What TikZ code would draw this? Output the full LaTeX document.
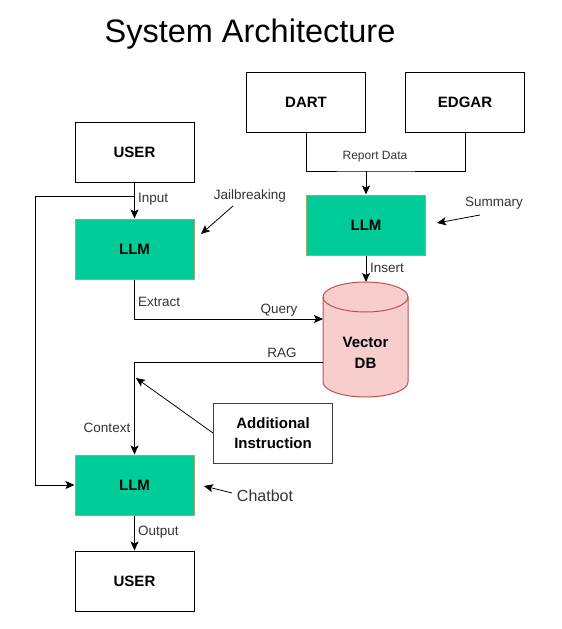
\documentclass[tikz,border=0pt]{standalone}
\usepackage{fontspec}
\setmainfont{Liberation Sans}
\usetikzlibrary{arrows.meta}
\definecolor{llmgreen}{HTML}{00CC99}
\definecolor{llmborder}{HTML}{9AAB6A}
\definecolor{dbfill}{HTML}{F8CECC}
\definecolor{dbborder}{HTML}{B85450}
\begin{document}
\begin{tikzpicture}[x=1pt,y=-1pt,
  box/.style={draw=black, fill=white, line width=1pt, minimum width=119pt, minimum height=60pt, inner sep=0pt,
    font=\fontsize{15}{18}\selectfont\bfseries},
  llm/.style={box, fill=llmgreen, draw=llmborder},
  lbl/.style={font=\fontsize{13.5}{15}\selectfont, text=black!80, inner sep=1pt},
  conn/.style={draw=black, line width=1pt, -{Stealth[length=9pt,width=8pt,inset=2pt]}},
  pointer/.style={draw=black, line width=0.8pt, -{Stealth[length=9pt,width=8pt,inset=2pt]}},
  plain/.style={draw=black, line width=1pt}]
\useasboundingbox (0,0) rectangle (562,629);

% title
\node[font=\fontsize{32.5}{38}\selectfont] (title) at (250,34) {System Architecture};

% boxes
\node[box] (user1) at (134.5,152) {USER};
\node[llm] (llm1) at (134.5,249) {LLM};
\node[box] (dart) at (306,102) {DART};
\node[box] (edgar) at (465,102) {EDGAR};
\node[llm] (llm2) at (366,225) {LLM};
\node[box, draw=black!75, align=center, font=\fontsize{15}{20}\selectfont\bfseries] (addi) at (273,433) {Additional\\Instruction};
\node[llm] (llm3) at (134.5,485) {LLM};
\node[box] (user2) at (134.5,581) {USER};

% cylinder
\node[minimum width=85pt, minimum height=115pt, inner sep=0pt] (db) at (365.5,339.5) {};
\draw[fill=dbfill, draw=dbborder, line width=1pt]
  (323,297) -- (323,382) arc[start angle=180, end angle=0, x radius=42.5, y radius=15]
  -- (408,297) arc[start angle=0, end angle=-180, x radius=42.5, y radius=15] -- cycle;
\draw[draw=dbborder, line width=1pt] (323,297) arc[start angle=180, end angle=0, x radius=42.5, y radius=15];
\node[align=center, font=\fontsize{15}{21}\selectfont\bfseries] (dbtext) at (365.5,353) {Vector\\DB};

% coordinates
\coordinate (j1) at (134.5,196);
\coordinate (j2) at (35,196);
\coordinate (j3) at (35,485);
\coordinate (qend) at (323,319);
\coordinate (rd) at (366,171);
\coordinate (dbtop) at (366,282);
\coordinate (ragstart) at (323,362);
\coordinate (addtip) at (136,378);

% connectors
\draw[conn] (user1) -- (llm1);
\draw[conn] (j1) -- (j2) -- (j3) -- (llm3.west);
\draw[conn] (llm1.south) |- (qend);
\draw[plain] (dart.south) |- (rd) -| (edgar.south);
\draw[conn] (rd) -- (llm2.north);
\draw[conn] (llm2.south) -- (dbtop);
\draw[conn] (ragstart) -| (llm3.north);
\draw[pointer] (addi.west) -- (addtip);
\draw[conn] (llm3) -- (user2);

% labels
\node[lbl, anchor=west] (inputl) at (137,199) {Input};
\node[lbl] (jail) at (250,196) {Jailbreaking};
\coordinate (jailtail) at (233,206);
\coordinate (jailtip) at (201,234);
\draw[pointer] (jailtail) -- (jailtip);
\node[lbl, anchor=west] (extractl) at (137,302) {Extract};
\node[lbl] (queryl) at (279,310) {Query};
\node[lbl, font=\fontsize{12}{14}\selectfont] (rdl) at (375,157) {Report Data};
\node[lbl] (summ) at (494,203) {Summary};
\coordinate (summtail) at (480,215);
\coordinate (summtip) at (437,223);
\draw[pointer] (summtail) -- (summtip);
\node[lbl, anchor=west] (insertl) at (369,268) {Insert};
\node[lbl] (ragl) at (282,353) {RAG};
\node[lbl] (ctxl) at (107,428) {Context};
\node[lbl, font=\fontsize{16}{18}\selectfont] (chat) at (265,496) {Chatbot};
\coordinate (chattail) at (232,493);
\coordinate (chattip) at (204,486);
\draw[pointer] (chattail) -- (chattip);
\node[lbl, anchor=west] (outl) at (137,532) {Output};
\end{tikzpicture}
\end{document}
